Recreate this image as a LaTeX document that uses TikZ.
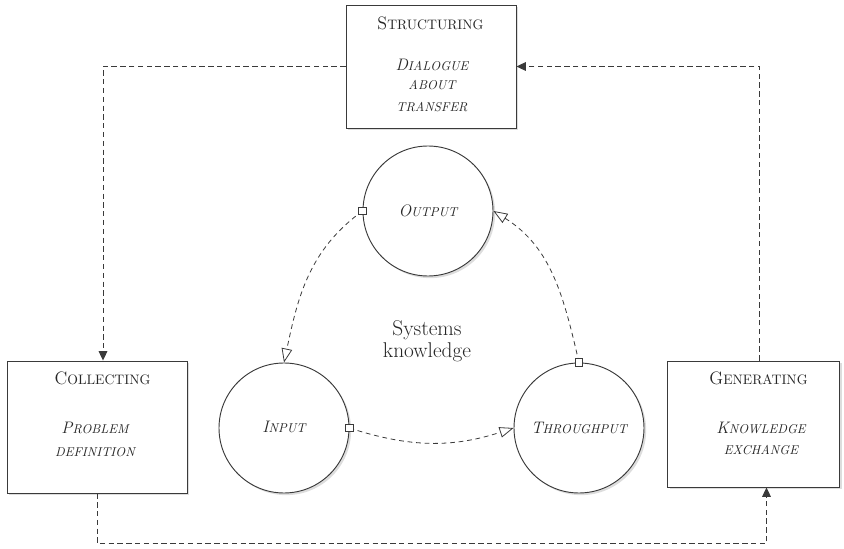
\documentclass[tikz,border=0pt]{standalone}
\usetikzlibrary{arrows.meta,shadows,calc}

\definecolor{ink}{HTML}{262626}
\definecolor{wire}{HTML}{3A3A3A}

% hand-made small capitals: a full-size initial followed by reduced capitals
\newcommand\capsT[2]{{\fontsize{13.5}{16}\selectfont #1}{\fontsize{10.3}{16}\selectfont #2}}
\newcommand\capsI[2]{{\itshape\fontsize{12.5}{15}\selectfont #1}{\itshape\fontsize{9.6}{15}\selectfont #2}}

\tikzset{
  txt/.style={anchor=base, inner sep=0pt, text=ink},
  soft/.style={drop shadow={shadow xshift=1.6pt, shadow yshift=-1.6pt, opacity=0.22, fill=black!60}},
  box/.style={draw=wire, fill=white, line width=0.7pt, inner sep=0pt, soft},
  ring/.style={circle, draw=wire, fill=white, line width=0.7pt, inner sep=0pt,
               minimum size=97.5pt, soft},
  outer/.style={draw=wire, line width=0.7pt, dash pattern=on 4pt off 2.6pt,
                -{Triangle[length=7pt,width=6.5pt]}},
  inner/.style={draw=wire, line width=0.6pt, dash pattern=on 3.6pt off 2.8pt,
                -{Triangle[open,length=10.5pt,width=8pt,fill=white]}},
  port/.style={rectangle, draw=wire, fill=white, line width=0.6pt,
               minimum size=5.5pt, inner sep=0pt},
}

\begin{document}
\begin{tikzpicture}[x=0.75pt,y=0.75pt]
\useasboundingbox (0,0) rectangle (844,-549);

% the three stage boxes
\node[box, minimum width=127.5pt, minimum height=92.25pt] (struct) at (431,-66.5) {};
\node[box, minimum width=135pt,   minimum height=99pt]    (collect) at (97,-427) {};
\node[box, minimum width=129pt,   minimum height=94.5pt]  (gen) at (753.5,-424) {};

% the three systems circles
\node[ring] (out) at (428,-211) {};
\node[ring] (in)  at (284,-428) {};
\node[ring] (thr) at (579,-428) {};

% outer cycle
\draw[outer] (struct.west) -| ($(collect.north)+(6,0)$);
\draw[outer] (collect.south) -- ++(0,-50) -| ($(gen.south)+(13,0)$);
\draw[outer] ($(gen.north)+(6,0)$) |- (struct.east);

% inner cycle
\draw[inner] (out.west) to[out=216,in=78] (in.north);
\draw[inner] (in.east)  to[out=-18,in=198] (thr.west);
\draw[inner] (thr.north) to[out=103,in=-32] (out.east);
\node[port] (p1) at (out.west) {};
\node[port] (p2) at (in.east) {};
\node[port] (p3) at (thr.north) {};

% box texts
\node[txt] (sT)  at (430.5,-30) {\capsT{S}{TRUCTURING}};
\node[txt] (sB1) at (432,-71)   {\capsI{D}{IALOGUE}};
\node[txt] (sB2) at (432,-89.5) {\capsI{}{ABOUT}};
\node[txt] (sB3) at (432,-112)  {\capsI{}{TRANSFER}};

\node[txt] (cT)  at (102.5,-385) {\capsT{C}{OLLECTING}};
\node[txt] (cB1) at (95,-434)    {\capsI{P}{ROBLEM}};
\node[txt] (cB2) at (95,-456)    {\capsI{}{DEFINITION}};

\node[txt] (gT)  at (758.5,-385) {\capsT{G}{ENERATING}};
\node[txt] (gB1) at (761,-434)   {\capsI{K}{NOWLEDGE}};
\node[txt] (gB2) at (761,-455)   {\capsI{}{EXCHANGE}};

% circle texts
\node[txt] (oT) at (428,-216.5) {\capsI{O}{UTPUT}};
\node[txt] (iT) at (284,-433)   {\capsI{I}{NPUT}};
\node[txt] (tT) at (579,-433.5) {\capsI{T}{HROUGHPUT}};

% centre caption
\node[txt, font=\fontsize{16}{19}\selectfont] (sys1) at (427,-336) {Systems};
\node[txt, font=\fontsize{16}{19}\selectfont] (sys2) at (427,-358) {knowledge};
\end{tikzpicture}
\end{document}
